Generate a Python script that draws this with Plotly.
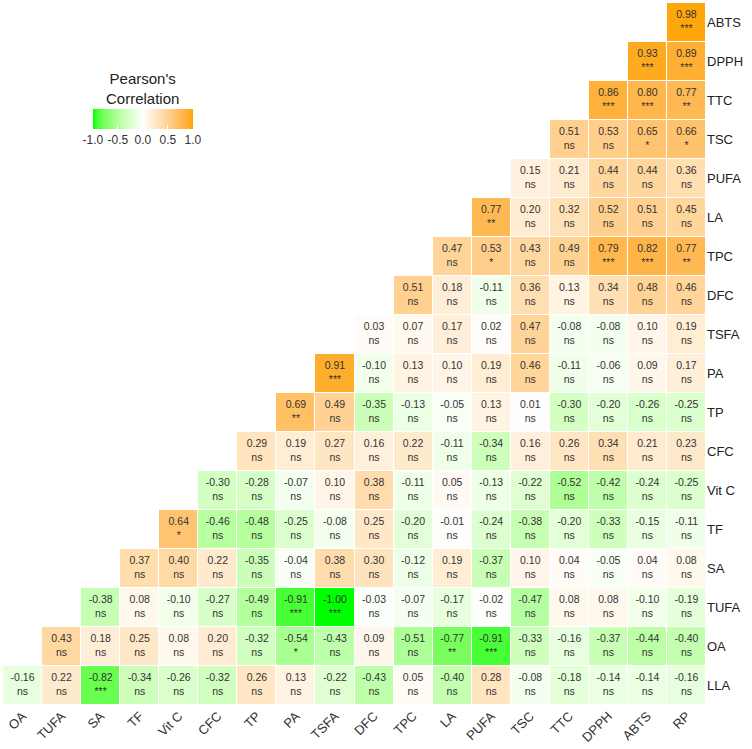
import numpy as np
import plotly.graph_objects as go

x_vars = ['OA', 'TUFA', 'SA', 'TF', 'Vit C', 'CFC', 'TP', 'PA', 'TSFA', 'DFC',
          'TPC', 'LA', 'PUFA', 'TSC', 'TTC', 'DPPH', 'ABTS', 'RP']
y_vars = ['LLA', 'OA', 'TUFA', 'SA', 'TF', 'Vit C', 'CFC', 'TP', 'PA', 'TSFA',
          'DFC', 'TPC', 'LA', 'PUFA', 'TSC', 'TTC', 'DPPH', 'ABTS']

# each row starts at the column with the same index as the row
r_LLA = [-0.16, 0.22, -0.82, -0.34, -0.26, -0.32, 0.26, 0.13, -0.22, -0.43, 0.05, -0.40, 0.28, -0.08, -0.18, -0.14, -0.14, -0.16]
s_LLA = ['ns', 'ns', '***'] + ['ns'] * 15
r_OA = [0.43, 0.18, 0.25, 0.08, 0.20, -0.32, -0.54, -0.43, 0.09, -0.51, -0.77, -0.91, -0.33, -0.16, -0.37, -0.44, -0.40]
s_OA = ['ns'] * 6 + ['*', 'ns', 'ns', 'ns', '**', '***'] + ['ns'] * 5
r_TUFA = [-0.38, 0.08, -0.10, -0.27, -0.49, -0.91, -1.00, -0.03, -0.07, -0.17, -0.02, -0.47, 0.08, 0.08, -0.10, -0.19]
s_TUFA = ['ns'] * 5 + ['***', '***'] + ['ns'] * 9
r_SA = [0.37, 0.40, 0.22, -0.35, -0.04, 0.38, 0.30, -0.12, 0.19, -0.37, 0.10, 0.04, -0.05, 0.04, 0.08]
s_SA = ['ns'] * 15
r_TF = [0.64, -0.46, -0.48, -0.25, -0.08, 0.25, -0.20, -0.01, -0.24, -0.38, -0.20, -0.33, -0.15, -0.11]
s_TF = ['*'] + ['ns'] * 13
r_VitC = [-0.30, -0.28, -0.07, 0.10, 0.38, -0.11, 0.05, -0.13, -0.22, -0.52, -0.42, -0.24, -0.25]
s_VitC = ['ns'] * 13
r_CFC = [0.29, 0.19, 0.27, 0.16, 0.22, -0.11, -0.34, 0.16, 0.26, 0.34, 0.21, 0.23]
s_CFC = ['ns'] * 12
r_TP = [0.69, 0.49, -0.35, -0.13, -0.05, 0.13, 0.01, -0.30, -0.20, -0.26, -0.25]
s_TP = ['**'] + ['ns'] * 10
r_PA = [0.91, -0.10, 0.13, 0.10, 0.19, 0.46, -0.11, -0.06, 0.09, 0.17]
s_PA = ['***'] + ['ns'] * 9
r_TSFA = [0.03, 0.07, 0.17, 0.02, 0.47, -0.08, -0.08, 0.10, 0.19]
s_TSFA = ['ns'] * 9
r_DFC = [0.51, 0.18, -0.11, 0.36, 0.13, 0.34, 0.48, 0.46]
s_DFC = ['ns'] * 8
r_TPC = [0.47, 0.53, 0.43, 0.49, 0.79, 0.82, 0.77]
s_TPC = ['ns', '*', 'ns', 'ns', '***', '***', '**']
r_LA = [0.77, 0.20, 0.32, 0.52, 0.51, 0.45]
s_LA = ['**'] + ['ns'] * 5
r_PUFA = [0.15, 0.21, 0.44, 0.44, 0.36]
s_PUFA = ['ns'] * 5
r_TSC = [0.51, 0.53, 0.65, 0.66]
s_TSC = ['ns', 'ns', '*', '*']
r_TTC = [0.86, 0.80, 0.77]
s_TTC = ['***', '***', '**']
r_DPPH = [0.93, 0.89]
s_DPPH = ['***', '***']
r_ABTS = [0.98]
s_ABTS = ['***']

rows = [r_LLA, r_OA, r_TUFA, r_SA, r_TF, r_VitC, r_CFC, r_TP, r_PA, r_TSFA,
        r_DFC, r_TPC, r_LA, r_PUFA, r_TSC, r_TTC, r_DPPH, r_ABTS]
sigs = [s_LLA, s_OA, s_TUFA, s_SA, s_TF, s_VitC, s_CFC, s_TP, s_PA, s_TSFA,
        s_DFC, s_TPC, s_LA, s_PUFA, s_TSC, s_TTC, s_DPPH, s_ABTS]

n = len(x_vars)
z = [[None] * n for _ in range(len(y_vars))]
lx, ly, lt = [], [], []
for i, (vals, ss) in enumerate(zip(rows, sigs)):
    for k, (v, s) in enumerate(zip(vals, ss)):
        z[i][i + k] = v
        lx.append(x_vars[i + k])
        ly.append(y_vars[i])
        lt.append(f"{v:.2f}<br>{s}")


# ggplot-like gradient2 (Lab interpolation) green -> white -> orange
def to_lab(h):
    c = np.array([int(h[i:i + 2], 16) for i in (1, 3, 5)]) / 255
    c = np.where(c > 0.04045, ((c + 0.055) / 1.055) ** 2.4, c / 12.92)
    m = np.array([[0.4124, 0.3576, 0.1805], [0.2126, 0.7152, 0.0722], [0.0193, 0.1192, 0.9505]])
    xyz = m @ c / np.array([0.95047, 1.0, 1.08883])
    f = np.where(xyz > 0.008856, np.cbrt(xyz), 7.787 * xyz + 16 / 116)
    return np.array([116 * f[1] - 16, 500 * (f[0] - f[1]), 200 * (f[1] - f[2])])


def to_rgb(lab):
    fy = (lab[0] + 16) / 116
    f = np.array([fy + lab[1] / 500, fy, fy - lab[2] / 200])
    xyz = np.where(f ** 3 > 0.008856, f ** 3, (f - 16 / 116) / 7.787) * np.array([0.95047, 1.0, 1.08883])
    mi = np.array([[3.2406, -1.5372, -0.4986], [-0.9689, 1.8758, 0.0415], [0.0557, -0.2040, 1.0570]])
    c = mi @ xyz
    c = np.where(c > 0.0031308, 1.055 * np.abs(c) ** (1 / 2.4) - 0.055, 12.92 * c)
    c = np.clip(c, 0, 1) * 255
    return f"rgb({c[0]:.0f},{c[1]:.0f},{c[2]:.0f})"


lo, mid, hi = to_lab('#00FF00'), to_lab('#FFFFFF'), to_lab('#FFA500')
cscale = []
for t in np.linspace(0, 1, 21):
    if t <= 0.5:
        lab = lo + (mid - lo) * (t / 0.5)
    else:
        lab = mid + (hi - mid) * ((t - 0.5) / 0.5)
    cscale.append([float(t), to_rgb(lab)])

FONT = 'Liberation Sans'

fig = go.Figure(go.Heatmap(
    x=x_vars, y=y_vars, z=z,
    colorscale=cscale, zmin=-1, zmax=1, xgap=1, ygap=1, hoverongaps=False,
    colorbar=dict(orientation='h', x=0.199, xanchor='center', y=0.849, yanchor='top',
                  ypad=0, len=120, lenmode='pixels', thickness=20, outlinewidth=0,
                  tickvals=[-1, -0.5, 0, 0.5, 1], ticktext=['-1.0', '-0.5', '0.0', '0.5', '1.0'],
                  ticks='inside', ticklen=4, tickcolor='white', tickangle=0,
                  tickfont=dict(size=12, color='#333333', family=FONT))
))

# cell labels: value + significance
fig.add_trace(go.Scatter(x=lx, y=ly, text=lt, mode='text', showlegend=False, hoverinfo='skip',
                         textfont=dict(size=10.5, color='#333333', family=FONT)))

# legend title
fig.add_annotation(x=0.199, y=0.907, xref='paper', yref='paper', xanchor='center', yanchor='top',
                   text="Pearson's<br>Correlation", showarrow=False, align='center',
                   font=dict(size=15, color='#222222', family=FONT))

fig.update_layout(
    width=752, height=749,
    paper_bgcolor='white', plot_bgcolor='white',
    margin=dict(l=3, r=46, t=3, b=44, autoexpand=False),
    xaxis=dict(type='category', categoryorder='array', categoryarray=x_vars,
               range=[-0.5, len(x_vars) - 0.5],
               tickangle=-45, automargin=False, showgrid=False, zeroline=False,
               showline=False, ticks='', tickfont=dict(size=13, color='#333333', family=FONT)),
    yaxis=dict(type='category', categoryorder='array', categoryarray=y_vars,
               range=[-0.5, len(y_vars) - 0.5],
               side='right', automargin=False, showgrid=False, zeroline=False,
               showline=False, ticks='', tickfont=dict(size=13, color='#222222', family=FONT)),
)

fig.write_html("out.html", config={'displayModeBar': False},
               post_script="document.body.style.margin='0';")
